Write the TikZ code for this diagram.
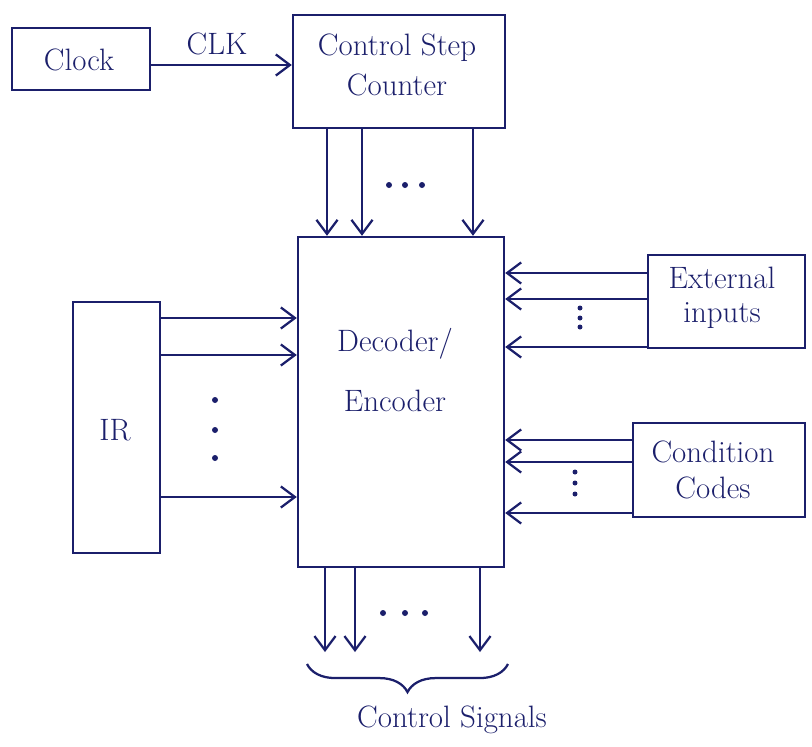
\documentclass[tikz,border=0pt]{standalone}
\usetikzlibrary{arrows.meta,decorations.pathreplacing}
\definecolor{ink}{HTML}{1B1F6B}
\tikzset{
  box/.style={draw=ink, line width=1.7pt, inner sep=0pt, minimum width=#1},
  lbl/.style={text=ink, align=center, inner sep=1pt, font=\fontsize{22}{#1}\selectfont},
  arr/.style={draw=ink, line width=1.6pt, -{Straight Barb[length=10pt,width=15pt,line width=1.6pt]}},
  dotmark/.style={fill=ink}
}
\begin{document}
\begin{tikzpicture}[x=0.025cm,y=-0.025cm]
\useasboundingbox (0,0) rectangle (812,746);
% boxes
\node[box=3.45cm, minimum height=1.55cm] (clock) at (81,59) {};
\node[lbl=24] (clocktext) at (79,60) {Clock};
\node[box=5.3cm, minimum height=2.825cm] (csc) at (399,71.5) {};
\node[lbl=28] (csctext) at (397,65) {Control Step\\Counter};
\node[box=5.15cm, minimum height=8.25cm] (dec) at (401,402) {};
\node[lbl=42] (dectext) at (395,370) {Decoder/\\Encoder};
\node[box=2.175cm, minimum height=6.275cm] (ir) at (116.5,427.5) {};
\node[lbl=24] (irtext) at (115,430) {IR};
\node[box=3.925cm, minimum height=2.325cm] (ext) at (726.5,301.5) {};
\node[lbl=24] (exttext) at (722,298) {External\\inputs};
\node[box=4.3cm, minimum height=2.35cm] (cc) at (719,470) {};
\node[lbl=25] (cctext) at (713,470) {Condition\\Codes};
% clock
\draw[arr] (clock.east |- 0,65) -- (csc.west |- 0,65);
\node[lbl=24] (clk) at (217,44) {CLK};
% counter to decoder
\foreach \x in {327,362,473} \draw[arr] (csc.south -| \x,0) -- (dec.north -| \x,0);
\foreach \x in {389,405,422} \fill[dotmark] (\x,185) circle (3);
% IR to decoder
\foreach \y in {318,355,497} \draw[arr] (ir.east |- 0,\y) -- (dec.west |- 0,\y);
\foreach \y in {400,430,458} \fill[dotmark] (215,\y) circle (3);
% external inputs
\foreach \y in {273,299,347} \draw[arr] (ext.west |- 0,\y) -- (dec.east |- 0,\y);
\foreach \y in {308,318,327} \fill[dotmark] (580,\y) circle (2.5);
% condition codes
\foreach \y in {440,462,513} \draw[arr] (cc.west |- 0,\y) -- (dec.east |- 0,\y);
\foreach \y in {472,483,494} \fill[dotmark] (575,\y) circle (2.5);
% outputs
\foreach \x [count=\i] in {325,355,480} {
  \coordinate (o\i) at (\x,652);
  \draw[arr] (dec.south -| \x,0) -- (o\i);
}
\foreach \x in {383,405,425} \fill[dotmark] (\x,613) circle (3);
\coordinate (bl) at (307,664);
\coordinate (br) at (508,664);
\draw[draw=ink, line width=1.6pt, decorate, decoration={brace,mirror,amplitude=20pt}] (bl) -- (br);
\node[lbl=24] (cs) at (452,720) {Control Signals};
\end{tikzpicture}
\end{document}
